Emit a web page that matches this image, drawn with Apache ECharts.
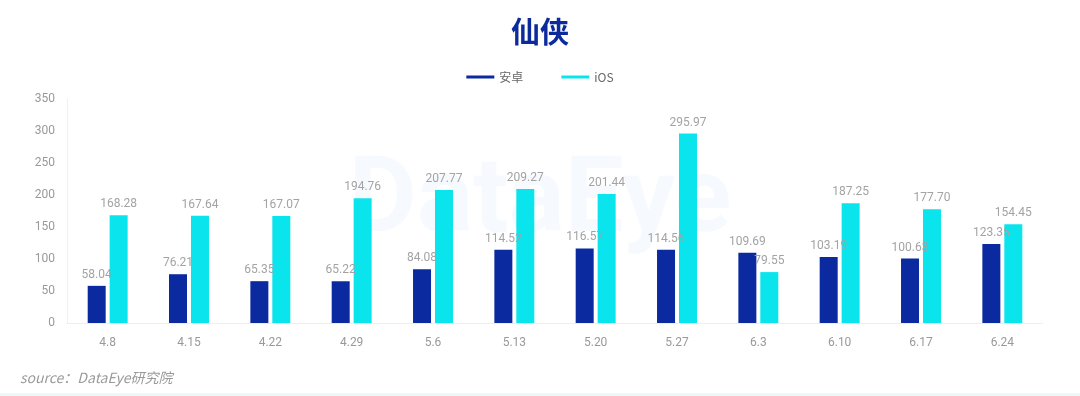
<!DOCTYPE html>
<html><head><meta charset="utf-8">
<script src="https://cdn.jsdelivr.net/npm/echarts@6/dist/echarts.min.js"></script>
<style>html,body{margin:0;padding:0;background:#fff}#c{width:1080px;height:396px}</style>
</head><body><div id="c"></div>
<script>
const categories = ['4.8','4.15','4.22','4.29','5.6','5.13','5.20','5.27','6.3','6.10','6.17','6.24'];
const androidValues = [58.04,76.21,65.35,65.22,84.08,114.52,116.57,114.56,109.69,103.19,100.63,123.35];
const iosValues = [168.28,167.64,167.07,194.76,207.77,209.27,201.44,295.97,79.55,187.25,177.70,154.45];
const yTicks = {min:0, max:350, interval:50};
const seriesNames = ['安卓','iOS'];

const chart = echarts.init(document.getElementById('c'), null, {renderer:'canvas'});
const lbl = {show:true, position:'top', distance:5, color:'#a3a3a3', fontSize:12, fontFamily:'Roboto', formatter: p => p.value.toFixed(2)};
chart.setOption({
  animation:false,
  backgroundColor:'#fff',
  title:{text:'仙侠', left:'center', top:12, textStyle:{color:'#0b2a9c', fontSize:29, fontWeight:'bold', fontFamily:'Noto Sans CJK SC'}},
  legend:{top:66, left:'center', itemWidth:28, itemHeight:3, itemGap:38, icon:'rect',
    textStyle:{color:'#666', fontSize:12, fontFamily:'Noto Sans CJK SC'}, data:seriesNames},
  graphic:[
    {type:'text', left:'center', top:152, z:-1, style:{text:'DataEye', fill:'rgba(40,150,230,0.045)', font:'bold 105px Roboto'}},
    {type:'text', left:20, top:371, style:{text:'source：DataEye研究院', fill:'#9a9a9a', font:'italic 14px "Noto Sans CJK SC"'}},
    {type:'rect', left:0, top:393, shape:{width:1080, height:3}, style:{fill:'#eaf8f7'}}
  ],
  grid:{left:67, right:37, top:99, bottom:73},
  xAxis:{type:'category', data:categories,
    axisLine:{lineStyle:{color:'#eeeeee'}}, axisTick:{show:false},
    axisLabel:{color:'#999', fontSize:12, margin:14, fontFamily:'Roboto'}},
  yAxis:{type:'value', min:yTicks.min, max:yTicks.max, interval:yTicks.interval,
    axisLine:{show:true, lineStyle:{color:'#f0f0f0'}}, axisTick:{show:false}, splitLine:{show:false},
    axisLabel:{color:'#999', fontSize:12, margin:12, fontFamily:'Roboto'}},
  series:[
    {name:seriesNames[0], type:'bar', data:androidValues, barWidth:18, barGap:'22%', itemStyle:{color:'#0b2aa0'}, label:lbl},
    {name:seriesNames[1], type:'bar', data:iosValues, barWidth:18, itemStyle:{color:'#0ae4ec'}, label:lbl}
  ]
});
</script></body></html>
